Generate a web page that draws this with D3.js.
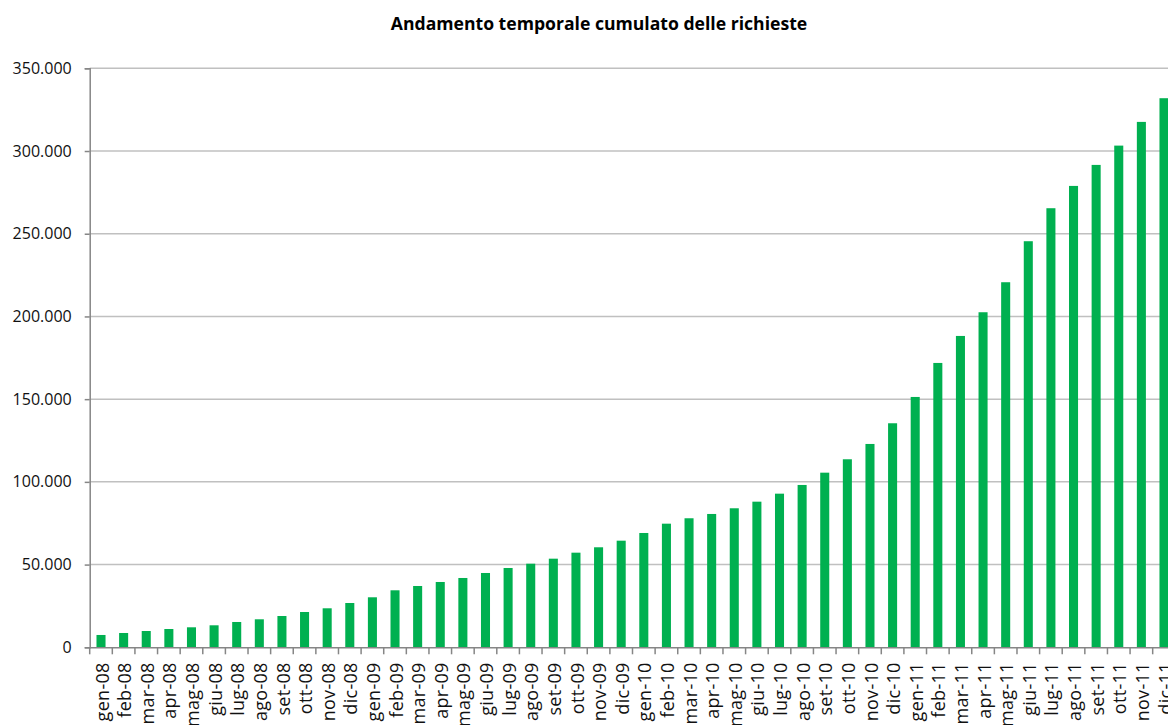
<!DOCTYPE html>
<html>
<head>
<meta charset="utf-8">
<script src="https://cdn.jsdelivr.net/npm/d3@7"></script>
<style>
  body { margin: 0; background: #fff; }
  svg { display: block; font-family: "Open Sans", sans-serif; }
</style>
</head>
<body>
<svg id="chart"></svg>
<script>
const months = ['gen', 'feb', 'mar', 'apr', 'mag', 'giu', 'lug', 'ago', 'set', 'ott', 'nov', 'dic'];
const years = ['08', '09', '10', '11'];
const categories = years.flatMap(y => months.map(m => `${m}-${y}`));

const richieste = [
  7450, 8650, 9850, 11060, 12090, 13300, 15300, 16930, 18920, 21340, 23580, 26780,
  30230, 34460, 37060, 39480, 41900, 44920, 47940, 50540, 53570, 57200, 60460, 64450,
  69100, 74730, 78000, 80600, 84040, 88030, 92870, 98130, 105560, 113660, 122920, 135430,
  151330, 171890, 188210, 202540, 220680, 245470, 265420, 278900, 291600, 303270, 317600, 331920
];

const yTicks = [0, 50000, 100000, 150000, 200000, 250000, 300000, 350000];

const width = 1168, height = 725;
const plot = { left: 89.7, right: 1175.3, top: 68.3, bottom: 647.3 };

const svg = d3.select('#chart')
  .attr('width', width)
  .attr('height', height);

const it = d3.formatLocale({ decimal: ',', thousands: '.', grouping: [3], currency: ['', ' €'] });
const format = it.format(',d');

const x = d3.scaleBand()
  .domain(categories)
  .range([plot.left, plot.right])
  .paddingInner(0.6)
  .paddingOuter(0.3);

const y = d3.scaleLinear()
  .domain([0, 350000])
  .range([plot.bottom, plot.top]);

// title
svg.append('text')
  .attr('x', 599)
  .attr('y', 30)
  .attr('text-anchor', 'middle')
  .attr('font-size', 17.6)
  .attr('font-weight', 'bold')
  .attr('fill', '#000')
  .text('Andamento temporale cumulato delle richieste');

// gridlines
svg.append('g')
  .selectAll('line')
  .data(yTicks.filter(d => d > 0))
  .enter()
  .append('line')
  .attr('x1', plot.left)
  .attr('x2', width)
  .attr('y1', d => y(d))
  .attr('y2', d => y(d))
  .attr('stroke', '#c0c0c0')
  .attr('stroke-width', 1.5);

// bars
svg.append('g')
  .selectAll('rect')
  .data(richieste)
  .enter()
  .append('rect')
  .attr('x', (d, i) => x(categories[i]))
  .attr('y', d => y(d))
  .attr('width', x.bandwidth())
  .attr('height', d => y(0) - y(d))
  .attr('fill', '#00b050');

// y axis
const yAxis = svg.append('g')
  .attr('transform', `translate(${plot.left},0)`)
  .call(d3.axisLeft(y).tickValues(yTicks).tickFormat(format).tickSize(5).tickPadding(13));
yAxis.select('.domain').attr('stroke', '#868686').attr('stroke-width', 1.5);
yAxis.selectAll('.tick line').attr('stroke', '#868686').attr('stroke-width', 1.5);
yAxis.selectAll('text')
  .attr('font-family', '"Open Sans", sans-serif')
  .attr('font-size', 16)
  .attr('fill', '#111');

// x axis
const xAxis = svg.append('g')
  .attr('transform', `translate(0,${plot.bottom})`)
  .call(d3.axisBottom(x).tickSize(0).tickPadding(0));
xAxis.select('.domain').attr('stroke', '#868686').attr('stroke-width', 1.5);
xAxis.selectAll('.tick text')
  .attr('font-family', '"Open Sans", sans-serif')
  .attr('font-size', 18)
  .attr('letter-spacing', 0.3)
  .attr('fill', '#111')
  .attr('text-anchor', 'end')
  .attr('transform', 'rotate(-90)')
  .attr('x', -15)
  .attr('y', 0)
  .attr('dy', '0.42em');

// category boundary ticks
xAxis.append('g')
  .selectAll('line')
  .data(d3.range(categories.length + 1))
  .enter()
  .append('line')
  .attr('x1', i => plot.left + i * x.step())
  .attr('x2', i => plot.left + i * x.step())
  .attr('y1', 0)
  .attr('y2', 7)
  .attr('stroke', '#868686')
  .attr('stroke-width', 1.5);
</script>
</body>
</html>
